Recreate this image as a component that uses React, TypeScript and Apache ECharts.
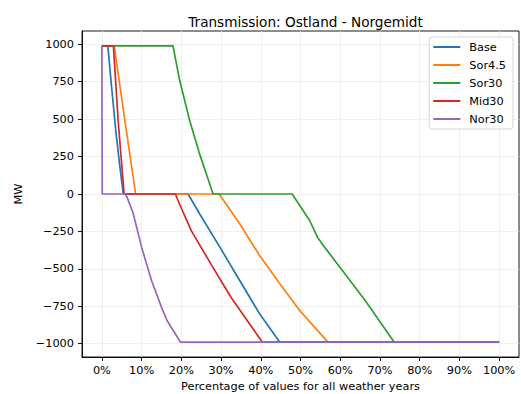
import React, { useEffect, useRef } from "react";
import * as echarts from "echarts";

// Duration curves of transmission flow (MW) against share of all weather years (%)
const seriesNames = ["Base", "Sor4.5", "Sor30", "Mid30", "Nor30"];
const seriesColors = ["#1f77b4", "#ff7f0e", "#2ca02c", "#d62728", "#9467bd"];

const base: [number, number][] = [
  [0, 990], [1.5, 990], [2.5, 700], [3.5, 425], [4.5, 190], [5.4, 0],
  [21.7, 0], [24.6, -132], [29.7, -355], [34.7, -578], [39.7, -800], [44.8, -990], [100, -990],
];
const sor45: [number, number][] = [
  [0, 990], [3.1, 990], [5.8, 490], [8.5, 0],
  [29.5, 0], [34.7, -199], [39.7, -411], [44.8, -600], [49.8, -778], [56.9, -990], [100, -990],
];
const sor30: [number, number][] = [
  [0, 990], [17.9, 990], [19.6, 758], [22.1, 491], [24.6, 268], [28, 0],
  [47.9, 0], [52.3, -177], [54.3, -290], [56.5, -370], [61.5, -545], [66.5, -720], [73.6, -990], [100, -990],
];
const mid30: [number, number][] = [
  [0, 990], [2.9, 990], [4.1, 490], [5.6, 0],
  [18.5, 0], [20.5, -125], [22.5, -245], [27.5, -470], [32.5, -690], [37.5, -880], [40.4, -990], [100, -990],
];
const nor30: [number, number][] = [
  [0, 990], [0.1, 0], [5.9, 0], [6.4, -25], [7.9, -130], [10, -355], [12.5, -578],
  [15, -756], [16.4, -845], [19.8, -990], [100, -990],
];
const seriesData = [base, sor45, sor30, mid30, nor30];

const xTicks = [0, 10, 20, 30, 40, 50, 60, 70, 80, 90, 100];
const yTicks = [-1000, -750, -500, -250, 0, 250, 500, 750, 1000];

const FONT = "DejaVu Sans";

export default function App() {
  const ref = useRef<HTMLDivElement>(null);

  useEffect(() => {
    if (!ref.current) return;
    const chart = echarts.init(ref.current, undefined, { renderer: "svg" });
    chart.setOption({
      animation: false,
      backgroundColor: "#ffffff",
      textStyle: { fontFamily: FONT },
      title: {
        text: "Transmission: Ostland - Norgemidt",
        left: 300.5,
        textAlign: "center",
        top: 10,
        textStyle: { fontFamily: FONT, fontSize: 13.6, fontWeight: "normal", color: "#000" },
      },
      legend: {
        data: seriesNames,
        orient: "vertical",
        right: 8,
        top: 37,
        padding: [3, 7, 3, 4],
        itemGap: 4,
        itemWidth: 27,
        itemHeight: 2,
        icon: "rect",
        backgroundColor: "rgba(255,255,255,0.8)",
        borderColor: "#cccccc",
        borderWidth: 0.8,
        borderRadius: 3,
        textStyle: { fontFamily: FONT, fontSize: 11.3, color: "#000", lineHeight: 14, padding: [0, 0, 0, 4] },
      },
      grid: {
        left: 82,
        right: 2,
        top: 31,
        bottom: 37,
        outerBoundsMode: "none",
        containLabel: false,
        show: true,
        borderColor: "#000",
        borderWidth: 0.9,
        backgroundColor: "transparent",
      },
      xAxis: {
        type: "value",
        min: -5,
        max: 105,
        name: "Percentage of values for all weather years",
        nameLocation: "middle",
        nameGap: 23,
        nameTextStyle: { fontFamily: FONT, fontSize: 11.3, color: "#000" },
        axisLine: { show: true, onZero: false, lineStyle: { color: "#000", width: 0.9 } },
        axisTick: { show: true, length: 4, lineStyle: { color: "#000", width: 0.9 }, customValues: xTicks },
        axisLabel: {
          customValues: xTicks,
          margin: 8,
          fontFamily: FONT,
          fontSize: 11.3,
          color: "#000",
          formatter: (v: number) => `${v}%`,
        },
        splitLine: { show: true, lineStyle: { color: "#ebebeb", width: 0.8 } },
      },
      yAxis: {
        type: "value",
        min: -1089,
        max: 1089,
        name: "MW",
        nameLocation: "middle",
        nameGap: 58,
        nameTextStyle: { fontFamily: FONT, fontSize: 11.3, color: "#000" },
        axisLine: { show: true, onZero: false, lineStyle: { color: "#000", width: 0.9 } },
        axisTick: { show: true, length: 4, lineStyle: { color: "#000", width: 0.9 }, customValues: yTicks },
        axisLabel: {
          customValues: yTicks,
          margin: 8,
          fontFamily: FONT,
          fontSize: 11.3,
          color: "#000",
          formatter: (v: number) => String(v).replace("-", "\u2212"),
        },
        splitLine: { show: true, lineStyle: { color: "#ebebeb", width: 0.8 } },
      },
      series: seriesNames.map((name, i) => ({
        name,
        type: "line",
        data: seriesData[i],
        showSymbol: false,
        symbol: "none",
        color: seriesColors[i],
        lineStyle: { color: seriesColors[i], width: 1.7 },
      })),
    });
    return () => chart.dispose();
  }, []);

  return <div ref={ref} style={{ width: 521, height: 394, position: "absolute", left: 0, top: 0 }} />;
}
